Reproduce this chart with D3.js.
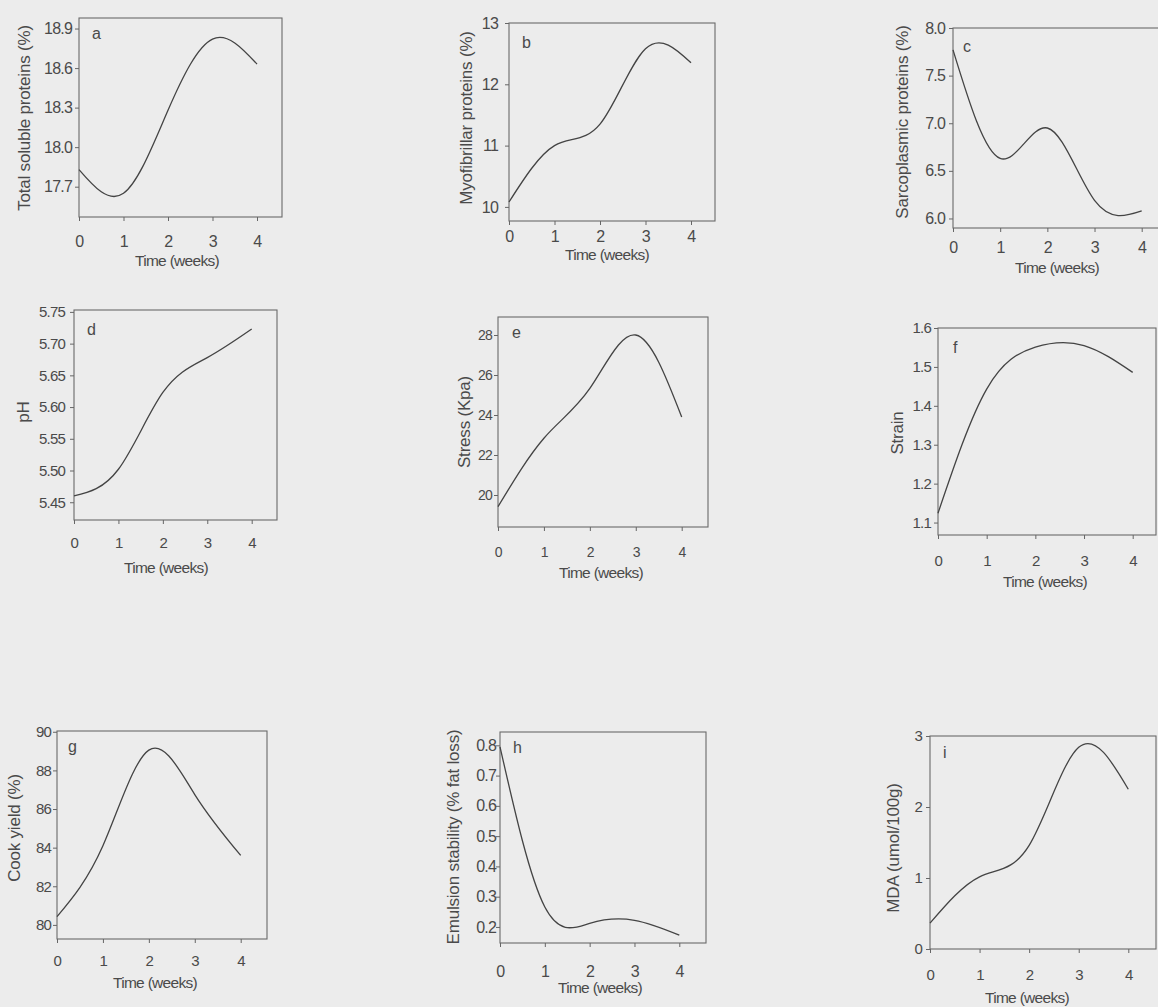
<!DOCTYPE html>
<html>
<head>
<meta charset="utf-8">
<script src="https://cdn.jsdelivr.net/npm/d3@7"></script>
<style>
  html, body { margin: 0; padding: 0; background: #ececec; }
  svg { display: block; }
  text { font-family: "Liberation Sans", Arial, sans-serif; fill: #4a4a4a; }
</style>
</head>
<body>
<svg id="chart" width="1158" height="1007"></svg>
<script>
// ---------- data ----------
const weeks = [0, 1, 2, 3, 4];
const xTickValues = [0, 1, 2, 3, 4];
const xTitle = "Time (weeks)";

const totalSoluble   = [17.83, 17.65, 18.28, 18.82, 18.63];
const myofibrillar   = [10.08, 11.00, 11.35, 12.58, 12.35];
const sarcoplasmic   = [7.77, 6.63, 6.95, 6.19, 6.08];
const pH             = [5.460, 5.502, 5.623, 5.678, 5.723];
const stress         = [19.42, 22.84, 25.33, 28.00, 23.90];
const strain         = [1.124, 1.443, 1.551, 1.555, 1.486];
const cookYield      = [80.43, 84.10, 89.05, 86.75, 83.60];
const emulsionStab   = [0.795, 0.266, 0.212, 0.222, 0.173];
const mda            = [0.364, 1.017, 1.460, 2.840, 2.250];

const ticksA = [17.7, 18.0, 18.3, 18.6, 18.9];
const ticksB = [10, 11, 12, 13];
const ticksC = [6.0, 6.5, 7.0, 7.5, 8.0];
const ticksD = [5.45, 5.50, 5.55, 5.60, 5.65, 5.70, 5.75];
const ticksE = [20, 22, 24, 26, 28];
const ticksF = [1.1, 1.2, 1.3, 1.4, 1.5, 1.6];
const ticksG = [80, 82, 84, 86, 88, 90];
const ticksH = [0.2, 0.3, 0.4, 0.5, 0.6, 0.7, 0.8];
const ticksI = [0, 1, 2, 3];

const panelLetters = ["a", "b", "c", "d", "e", "f", "g", "h", "i"];
const yTitles = ["Total soluble proteins (%)", "Myofibrillar proteins (%)", "Sarcoplasmic proteins (%)",
                 "pH", "Stress (Kpa)", "Strain",
                 "Cook yield (%)", "Emulsion stability (% fat loss)", "MDA (umol/100g)"];
const series = [totalSoluble, myofibrillar, sarcoplasmic, pH, stress, strain, cookYield, emulsionStab, mda];
const yTicks = [ticksA, ticksB, ticksC, ticksD, ticksE, ticksF, ticksG, ticksH, ticksI];
const yDomains = [[17.47, 18.98], [9.77, 13.0], [5.90, 8.0], [5.422, 5.753], [18.4, 28.9],
                  [1.068, 1.6], [79.27, 90.04], [0.147, 0.844], [0, 3]];
const yFormats = [".1f", "d", ".1f", ".2f", "d", ".1f", "d", ".1f", "d"];

// ---------- layout (pixel geometry of each panel) ----------
const layout = [
  { f: [79, 18, 282, 217],   x4: 257,   tickFs: 16, yGap: 7,  xLabB: 30, titleB: 49, titleX: 177,  yTitleX: 24,  yTitleY: 118, letter: [92, 39] },
  { f: [509, 23, 715, 221],  x4: 691,   tickFs: 16, yGap: 11, xLabB: 21, titleB: 39, titleX: 607,  yTitleX: 466, yTitleY: 118, letter: [522, 48] },
  { f: [953, 28, 1162, 228], x4: 1141.7,tickFs: 16, yGap: 8,  xLabB: 25, titleB: 45, titleX: 1057, yTitleX: 902, yTitleY: 122, letter: [963, 52] },
  { f: [74, 310, 277, 520],  x4: 251.7, tickFs: 15, yGap: 9,  xLabB: 28, titleB: 53, titleX: 166,  yTitleX: 23,  yTitleY: 412, letter: [87, 335] },
  { f: [498, 317, 708, 527], x4: 681.7, tickFs: 14, yGap: 6,  xLabB: 30, titleB: 51, titleX: 601,  yTitleX: 464, yTitleY: 422, letter: [512, 338] },
  { f: [938, 328, 1156, 535],x4: 1132.7,tickFs: 15, yGap: 7,  xLabB: 31, titleB: 52, titleX: 1045, yTitleX: 897, yTitleY: 433, letter: [953, 353] },
  { f: [57, 731, 267, 939],  x4: 240.7, tickFs: 15, yGap: 6,  xLabB: 27, titleB: 49, titleX: 155,  yTitleX: 14,  yTitleY: 828, letter: [68, 752] },
  { f: [500, 732, 706, 943], x4: 679.3, tickFs: 16, yGap: 4,  xLabB: 34, titleB: 50, titleX: 600,  yTitleX: 453, yTitleY: 837, letter: [513, 753] },
  { f: [930, 736, 1156, 949],x4: 1128.3,tickFs: 15, yGap: 8,  xLabB: 31, titleB: 54, titleX: 1027, yTitleX: 893, yTitleY: 848, letter: [943, 758] }
];

const svg = d3.select("#chart");
svg.append("rect").attr("width", 1158).attr("height", 1007).attr("fill", "#ececec");

const TICK = 4;

layout.forEach((L, i) => {
  const [l, t, r, b] = L.f;
  const x = d3.scaleLinear().domain([0, 4]).range([l, L.x4]);
  const y = d3.scaleLinear().domain(yDomains[i]).range([b, t]);
  const g = svg.append("g");

  g.append("rect")
    .attr("x", l).attr("y", t).attr("width", r - l).attr("height", b - t)
    .attr("fill", "none").attr("stroke", "#6a6a6a").attr("stroke-width", 1.1);

  const xPad = L.xLabB - TICK - 0.71 * L.tickFs;
  const xa = g.append("g").attr("transform", `translate(0,${b})`)
    .call(d3.axisBottom(x).tickValues(xTickValues).tickSize(TICK).tickPadding(xPad).tickFormat(d3.format("d")));
  xa.select(".domain").remove();
  xa.selectAll("line").attr("stroke", "#666");
  xa.selectAll("text").attr("font-size", L.tickFs).attr("font-family", null).attr("fill", "#4a4a4a")
    .style("letter-spacing", "-0.5px");

  const ya = g.append("g").attr("transform", `translate(${l},0)`)
    .call(d3.axisLeft(y).tickValues(yTicks[i]).tickSize(TICK).tickPadding(Math.max(0, L.yGap - TICK))
      .tickFormat(d3.format(yFormats[i])));
  ya.select(".domain").remove();
  ya.selectAll("line").attr("stroke", "#666");
  ya.selectAll("text").attr("font-size", L.tickFs).attr("font-family", null).attr("fill", "#4a4a4a")
    .style("letter-spacing", "-0.8px");

  const line = d3.line().x((d, k) => x(weeks[k])).y(d => y(d)).curve(d3.curveNatural);
  g.append("path").datum(series[i]).attr("d", line)
    .attr("fill", "none").attr("stroke", "#444").attr("stroke-width", 1.3);

  g.append("text").attr("x", L.titleX).attr("y", b + L.titleB)
    .attr("text-anchor", "middle").attr("font-size", 15.5).style("letter-spacing", "-0.7px")
    .text(xTitle);

  g.append("text")
    .attr("transform", `translate(${L.yTitleX},${L.yTitleY}) rotate(-90)`)
    .attr("text-anchor", "middle").attr("dy", "0.35em").attr("font-size", 17)
    .style("letter-spacing", "-0.2px")
    .text(yTitles[i]);

  g.append("text").attr("x", L.letter[0]).attr("y", L.letter[1])
    .attr("font-size", 16).text(panelLetters[i]);
});
</script>
</body>
</html>
